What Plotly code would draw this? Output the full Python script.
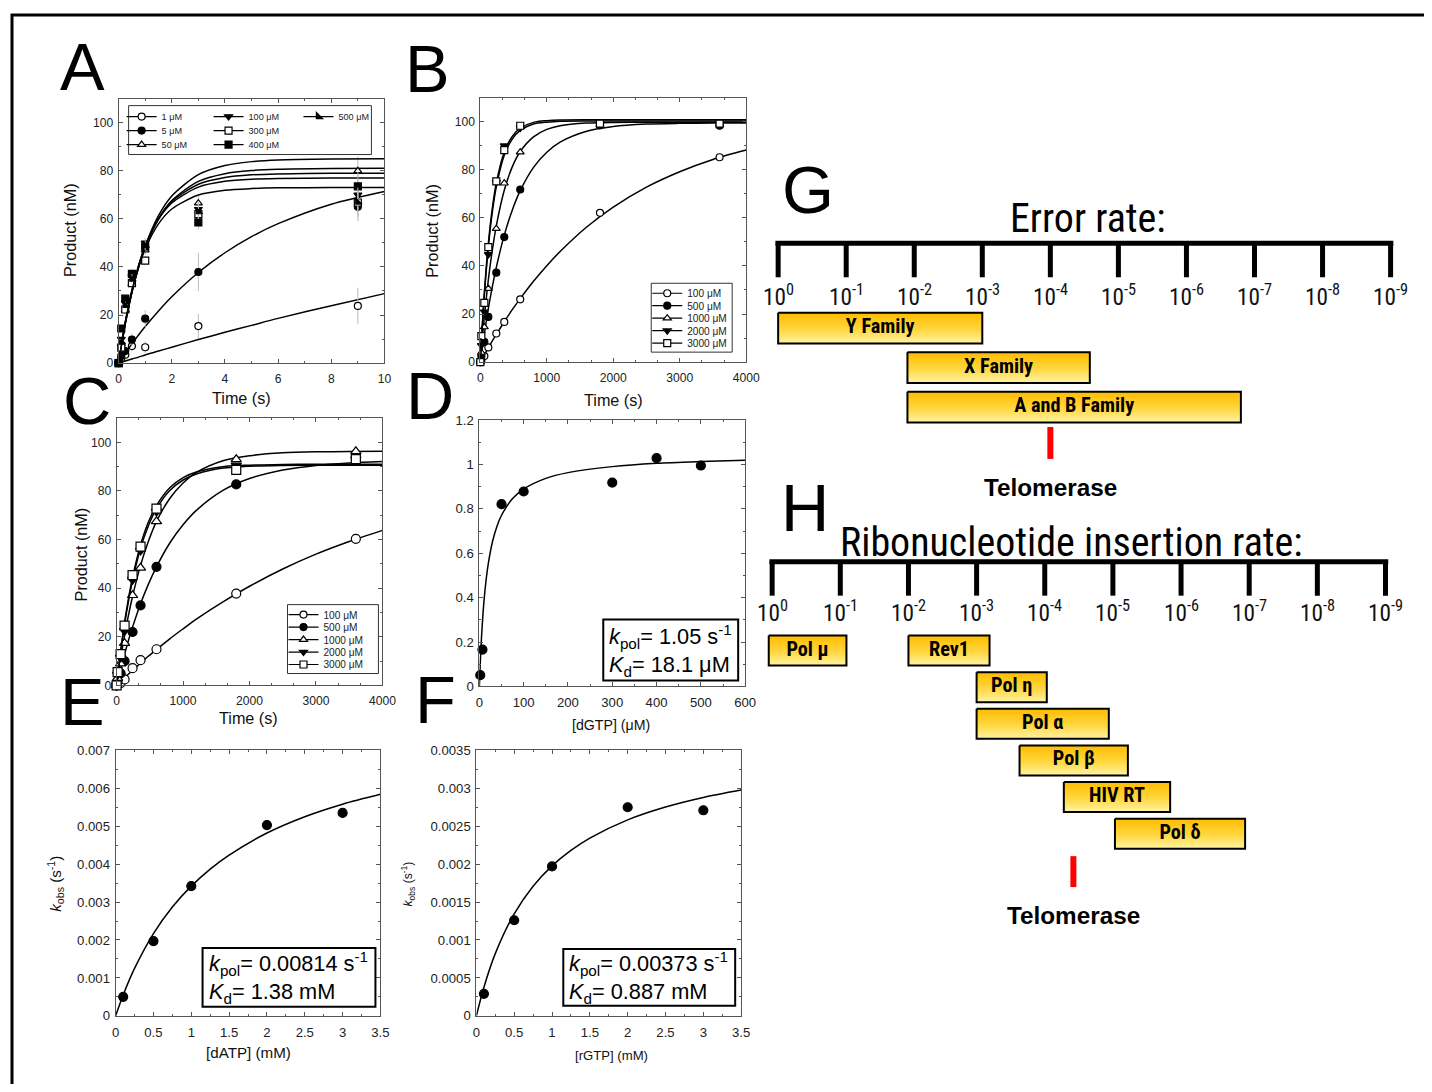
import plotly.graph_objects as go

# ======================= DATA =======================
# Panel A : product vs time (s), 7 dNTP concentrations
a_names = ['1 μM', '5 μM', '50 μM', '100 μM', '300 μM', '400 μM', '500 μM']
a_time = [0, 0.1, 0.25, 0.5, 1, 3, 9]
a_1uM = [0, 2.0, 3.5, 7.1, 6.6, 15.4, 23.8]
a_5uM = [0, 3.0, 5.0, 9.8, 18.5, 37.9, 65.0]
a_50uM = [0, 8.0, 22.0, 33.0, 47.0, 66.5, 80.0]
a_100uM = [0, 10.0, 25.0, 36.0, 50.0, 64.0, 70.0]
a_300uM = [0, 6.4, 22.3, 33.3, 42.6, 62.0, 66.8]
a_400uM = [0, 14.4, 26.8, 37.1, 48.5, 58.5, 73.5]
a_500uM = [0, 9.0, 24.0, 35.0, 49.0, 63.0, 67.0]
a_err_low = [0, 1.0, 1.5, 2.0, 2.5, 5.0, 7.5]
a_err_mid = [0, 1.0, 1.5, 2.5, 3.5, 8.0, 6.0]
a_err_high = [0, 1.0, 1.5, 2.0, 2.0, 3.0, 6.0]
a_fit_time = [0, 0.25, 0.5, 0.75, 1, 1.5, 2, 3, 4, 5, 6, 8, 10]
a_fit_1uM = [0, 0.85, 1.7, 2.5, 3.4, 5.0, 6.6, 9.8, 12.8, 15.7, 18.6, 23.9, 28.9]
a_fit_5uM = [0, 4.1, 8.0, 11.7, 15.2, 21.7, 27.6, 37.7, 45.9, 52.6, 58.0, 66.1, 71.4]
a_fit_50uM = [0, 16.3, 29.4, 39.8, 48.1, 60.0, 67.6, 75.6, 78.8, 80.1, 80.6, 80.9, 81.0]
a_fit_100uM = [0, 16.3, 29.4, 40.1, 48.7, 61.3, 69.5, 78.4, 82.2, 83.8, 84.5, 84.9, 85.0]
a_fit_300uM = [0, 17.0, 30.3, 40.6, 48.7, 59.8, 66.6, 73.2, 75.6, 76.5, 76.8, 77.0, 77.0]
a_fit_400uM = [0, 16.7, 29.9, 40.3, 48.4, 60.0, 67.2, 74.4, 77.2, 78.3, 78.7, 79.0, 79.0]
a_fit_500uM = [0, 16.9, 29.8, 39.8, 47.5, 57.9, 64.1, 69.9, 71.9, 72.6, 72.9, 73.0, 73.0]

# Panels B and C : product vs time (s)
bc_names = ['100 μM', '500 μM', '1000 μM', '2000 μM', '3000 μM']
b_time = [0, 15, 60, 120, 240, 360, 600, 1800, 3600]
b_100 = [0, 0.8, 2.5, 6.1, 11.9, 16.7, 26.1, 62.1, 85.2]
b_500 = [0, 2.5, 8.4, 18.8, 37.2, 52.0, 71.8, 98.5, 98.3]
b_1000 = [0, 4.0, 14.6, 30.6, 55.5, 74.4, 87.3, 98.8, 99.0]
b_2000 = [0, 7.0, 20.9, 44.8, 74.8, 90.0, 97.4, 98.8, 99.0]
b_3000 = [0, 10.8, 24.6, 47.8, 75.2, 88.2, 98.3, 99.2, 99.2]
fit_time = [0, 30, 60, 120, 180, 240, 360, 480, 600, 800, 1000, 1200, 1600, 2000, 2500, 3000, 3500, 4000]
b_fit_100 = [0, 1.5, 3.0, 5.9, 8.8, 11.5, 16.8, 21.8, 26.4, 33.6, 40.1, 46.0, 56.2, 64.5, 72.8, 79.2, 84.3, 88.2]
b_fit_500 = [0, 6.1, 11.8, 22.2, 31.3, 39.4, 52.8, 63.2, 71.3, 81.0, 87.3, 91.5, 96.0, 98.0, 99.0, 99.3, 99.4, 99.5]
b_fit_1000 = [0, 9.9, 18.9, 34.2, 46.6, 56.7, 71.5, 81.2, 87.6, 93.7, 96.8, 98.3, 99.4, 99.7, 99.8, 99.8, 99.8, 99.8]
b_fit_2000 = [0, 15.0, 27.8, 47.8, 62.4, 72.9, 86.0, 92.8, 96.4, 99.0, 99.8, 100.2, 100.3, 100.3, 100.3, 100.3, 100.3, 100.3]
b_fit_3000 = [0, 15.6, 28.8, 49.3, 64.0, 74.5, 87.4, 93.9, 97.3, 99.7, 100.4, 100.7, 100.8, 100.8, 100.8, 100.8, 100.8, 100.8]

c_time = [0, 15, 60, 120, 240, 360, 600, 1800, 3600]
c_100 = [0, 0.5, 1.0, 2.5, 7.1, 10.4, 14.9, 37.8, 60.3]
c_500 = [0, 1.5, 5.0, 10.0, 22.0, 32.9, 48.8, 82.7, 93.0]
c_1000 = [0, 3.0, 9.0, 17.4, 37.1, 48.4, 67.5, 93.0, 96.3]
c_2000 = [0, 4.5, 11.5, 22.5, 43.5, 55.5, 71.5, 90.5, 93.0]
c_3000 = [0, 5.5, 12.9, 24.6, 45.4, 57.1, 72.7, 88.7, 93.1]
c_fit_100 = [0, 0.8, 1.6, 3.2, 4.7, 6.2, 9.2, 12.1, 14.8, 19.2, 23.3, 27.3, 34.4, 40.8, 47.9, 54.0, 59.2, 63.8]
c_fit_500 = [0, 3.4, 6.7, 12.9, 18.7, 24.0, 33.6, 41.8, 48.8, 58.6, 66.1, 72.0, 80.2, 85.1, 88.6, 90.5, 91.5, 92.1]
c_fit_1000 = [0, 5.6, 10.9, 20.6, 29.1, 36.7, 49.4, 59.4, 67.5, 76.9, 83.3, 87.6, 92.4, 94.5, 95.7, 96.1, 96.2, 96.3]
c_fit_2000 = [0, 7.3, 14.1, 26.0, 36.0, 44.5, 57.8, 67.3, 74.0, 81.3, 85.5, 87.8, 90.0, 90.6, 90.9, 91.0, 91.0, 91.0]
c_fit_3000 = [0, 7.0, 13.6, 25.1, 34.9, 43.2, 56.4, 65.8, 72.7, 80.2, 84.5, 87.0, 89.4, 90.2, 90.5, 90.6, 90.6, 90.6]

# Panel D : kobs vs [dGTP] (μM)
d_conc = [2, 7, 50, 100, 300, 400, 500]
d_rate = [0.051, 0.166, 0.821, 0.878, 0.918, 1.028, 0.995]
d_fit_conc = [0, 2, 5, 10, 15, 20, 30, 40, 50, 75, 100, 150, 200, 300, 400, 500, 600]
d_fit_rate = [0, 0.104, 0.227, 0.374, 0.476, 0.551, 0.655, 0.723, 0.771, 0.846, 0.889, 0.937, 0.963, 0.990, 1.005, 1.013, 1.019]

# Panel E : kobs vs [dATP] (mM)
e_conc = [0.1, 0.5, 1, 2, 3]
e_rate = [0.0005, 0.00197, 0.00342, 0.00503, 0.00535]
ef_fit_conc = [0, 0.1, 0.25, 0.5, 0.75, 1, 1.25, 1.5, 2, 2.5, 3, 3.5]
e_fit_rate = [0, 0.00055, 0.00125, 0.00217, 0.00287, 0.00342, 0.00387, 0.00424, 0.00482, 0.00525, 0.00558, 0.00584]

# Panel F : kobs vs [rGTP] (mM)
f_conc = [0.1, 0.5, 1, 2, 3]
f_rate = [0.00029, 0.00126, 0.00197, 0.00275, 0.00271]
f_fit_rate = [0, 0.000378, 0.00082, 0.001345, 0.001709, 0.001977, 0.002182, 0.002344, 0.002584, 0.002753, 0.002879, 0.002976]

# Fit parameter texts (D, E, F)
d_params = ['<i>k</i><sub>pol</sub>= 1.05 s<sup>-1</sup>', '<i>K</i><sub>d</sub>= 18.1 μM']
e_params = ['<i>k</i><sub>pol</sub>= 0.00814 s<sup>-1</sup>', '<i>K</i><sub>d</sub>= 1.38 mM']
f_params = ['<i>k</i><sub>pol</sub>= 0.00373 s<sup>-1</sup>', '<i>K</i><sub>d</sub>= 0.887 mM']

# Panels G / H : log-scale ranges (exponent n of 10^-n)
scale_exponents = [0, 1, 2, 3, 4, 5, 6, 7, 8, 9]
scale_labels = ['10<sup>0</sup>', '10<sup>-1</sup>', '10<sup>-2</sup>', '10<sup>-3</sup>', '10<sup>-4</sup>',
                '10<sup>-5</sup>', '10<sup>-6</sup>', '10<sup>-7</sup>', '10<sup>-8</sup>', '10<sup>-9</sup>']
g_names = ['Y Family', 'X Family', 'A and B Family']
g_start = [0, 1.9, 1.9]
g_end = [3.0, 4.58, 6.8]
g_row = [0, 1, 2]
g_telomerase = 4.0
h_names = ['Pol μ', 'Rev1', 'Pol η', 'Pol α', 'Pol β', 'HIV RT', 'Pol δ']
h_start = [-0.05, 2.0, 3.0, 3.0, 3.63, 4.28, 5.03]
h_end = [1.09, 3.19, 4.03, 4.94, 5.22, 5.84, 6.94]
h_row = [0, 0, 1, 2, 3, 4, 5]
h_telomerase = 4.42

# ======================= LAYOUT HELPERS =======================
W, H = 1432, 1092          # page size
OFF = 8                    # default body margin of the page
FW, FH = W - 2 * OFF, H - 2 * OFF
SC, CX, CY = 0.988, 3.4, 6.3   # measured page -> picture mapping
FONT = 'Liberation Sans, Arial, sans-serif'
NARROW = 'Liberation Sans Narrow, Arial Narrow, Roboto Condensed, Liberation Sans, sans-serif'


def clamp(v):
    return max(0.0, min(1.0, v))


def fx(px):
    return ((px - CX) / SC - OFF) / FW


def fy(py):
    return 1 - ((py - CY) / SC - OFF) / FH


def fs(size):
    return size / SC


fig = go.Figure()


def set_panel_axes(n, box, xr, yr, xd, yd, xm, ym, size):
    s = '' if n == 1 else str(n)
    l, t, r, b = box
    common = dict(showline=True, linecolor='#555', linewidth=1, mirror='ticks', ticks='inside',
                  ticklen=4, tickwidth=1, tickcolor='#555', showgrid=False, zeroline=False,
                  tickfont=dict(family=FONT, size=fs(size), color='#222'), fixedrange=True, tick0=0)
    fig.update_layout(**{
        'xaxis' + s: dict(domain=[fx(l), fx(r)], range=xr, dtick=xd, anchor='y' + s, ticklabelstandoff=4,
                          minor=dict(ticks='inside', ticklen=2, dtick=xm, tickcolor='#555'), **common),
        'yaxis' + s: dict(domain=[fy(b), fy(t)], range=yr, dtick=yd, anchor='x' + s, ticklabelstandoff=2,
                          minor=dict(ticks='inside', ticklen=2, dtick=ym, tickcolor='#555'), **common),
    })


set_panel_axes(1, (118, 98, 384, 363), [0, 10], [0, 110], 2, 20, 1, 10, 12)
set_panel_axes(2, (480, 97, 746, 362), [0, 4000], [0, 110], 1000, 20, 1000 / 3, 10, 12)
set_panel_axes(3, (116, 418, 382, 686), [0, 4000], [0, 110], 1000, 20, 1000 / 3, 10, 12)
set_panel_axes(4, (479, 420, 745, 687), [0, 600], [0, 1.2], 100, 0.2, 50, 0.1, 13)
set_panel_axes(5, (115, 751, 380, 1017), [0, 3.5], [0, 0.007], 0.5, 0.001, 0.25, 0.0005, 13)
set_panel_axes(6, (476, 751, 741, 1017), [0, 3.5], [0, 0.0035], 0.5, 0.0005, 0.25, 0.00025, 13)

legend_layouts = {}
legend_count = [0]


def new_legend(marker_px, row_py, size):
    legend_count[0] += 1
    k = legend_count[0]
    key = 'legend' if k == 1 else 'legend' + str(k)
    legend_layouts[key] = dict(x=fx(marker_px - 20), y=fy(row_py), xanchor='left', yanchor='middle',
                               bgcolor='rgba(0,0,0,0)', borderwidth=0, itemwidth=30, tracegroupgap=0,
                               font=dict(family=FONT, size=fs(size), color='#222'),
                               itemclick=False, itemdoubleclick=False)
    return key


def add_series(n, x, y, cx, cy, symbol, filled, size, name=None, leg=None, err=None):
    s = '' if n == 1 else str(n)
    xa, ya = 'x' + s, 'y' + s
    mk = dict(symbol=symbol, size=size, color='black' if filled else 'white',
              line=dict(color='black', width=1.2))
    fig.add_trace(go.Scatter(x=cx, y=cy, mode='lines',
                             line=dict(color='black', width=1.5, shape='spline', smoothing=0.8),
                             xaxis=xa, yaxis=ya, showlegend=False, hoverinfo='skip'))
    ey = dict(type='data', array=err, color='#bdbdbd', thickness=1, width=0) if err else None
    fig.add_trace(go.Scatter(x=x, y=y, mode='markers', marker=mk, error_y=ey, xaxis=xa, yaxis=ya,
                             showlegend=False, hoverinfo='skip', cliponaxis=False))
    if name:
        lmk = dict(mk, size=min(size, 7))
        fig.add_trace(go.Scatter(x=[None], y=[None], mode='lines+markers', name=name,
                                 line=dict(color='black', width=1.2), marker=lmk,
                                 legend=new_legend(*leg), xaxis=xa, yaxis=ya, showlegend=True))


# Panel A  (legend keys: marker x px, row y px, font size)
add_series(1, a_time, a_1uM, a_fit_time, a_fit_1uM, 'circle', False, 7, a_names[0], (141, 116, 9), a_err_low)
add_series(1, a_time, a_5uM, a_fit_time, a_fit_5uM, 'circle', True, 7, a_names[1], (141, 130, 9), a_err_mid)
add_series(1, a_time, a_50uM, a_fit_time, a_fit_50uM, 'triangle-up', False, 7, a_names[2], (141, 144, 9), a_err_high)
add_series(1, a_time, a_100uM, a_fit_time, a_fit_100uM, 'triangle-down', True, 7, a_names[3], (228, 116, 9), a_err_high)
add_series(1, a_time, a_300uM, a_fit_time, a_fit_300uM, 'square', False, 7, a_names[4], (228, 130, 9), a_err_high)
add_series(1, a_time, a_400uM, a_fit_time, a_fit_400uM, 'square', True, 7, a_names[5], (228, 144, 9), a_err_high)
add_series(1, a_time, a_500uM, a_fit_time, a_fit_500uM, 'triangle-sw', True, 7, a_names[6], (318, 116, 9), a_err_high)

# Panel B
b_sets = [(b_100, b_fit_100, 'circle', False), (b_500, b_fit_500, 'circle', True),
          (b_1000, b_fit_1000, 'triangle-up', False), (b_2000, b_fit_2000, 'triangle-down', True),
          (b_3000, b_fit_3000, 'square', False)]
b_rows = [293, 305.5, 318, 330.5, 343]
for nm, (yy, ff, sym, fl), ry in zip(bc_names, b_sets, b_rows):
    add_series(2, b_time, yy, fit_time, ff, sym, fl, 7, nm, (667, ry, 10))

# Panel C
c_sets = [(c_100, c_fit_100, 'circle', False), (c_500, c_fit_500, 'circle', True),
          (c_1000, c_fit_1000, 'triangle-up', False), (c_2000, c_fit_2000, 'triangle-down', True),
          (c_3000, c_fit_3000, 'square', False)]
c_rows = [615, 627.5, 640, 652.5, 665]
for nm, (yy, ff, sym, fl), ry in zip(bc_names, c_sets, c_rows):
    add_series(3, c_time, yy, fit_time, ff, sym, fl, 9, nm, (303, ry, 10))

# Panels D, E, F
add_series(4, d_conc, d_rate, d_fit_conc, d_fit_rate, 'circle', True, 9)
add_series(5, e_conc, e_rate, ef_fit_conc, e_fit_rate, 'circle', True, 9)
add_series(6, f_conc, f_rate, ef_fit_conc, f_fit_rate, 'circle', True, 9)

fig.update_layout(**legend_layouts)

shapes = []
annotations = []


def rect(l, t, r, b, color='#333', width=1, fill='white'):
    shapes.append(dict(type='rect', xref='paper', yref='paper', x0=fx(l), x1=fx(r), y0=fy(b), y1=fy(t),
                       line=dict(color=color, width=width), fillcolor=fill, layer='above'))


# legend frames
for box in [(128, 105, 371, 154), (651, 283, 732, 352), (287, 605, 378, 674)]:
    rect(*box)
# outer figure frame (top / left visible)
shapes.append(dict(type='rect', xref='paper', yref='paper', x0=0, x1=1.02, y0=-0.02, y1=1,
                   line=dict(color='black', width=3)))


def ann(text, px, py, size, angle=0, family=FONT, color='#111', **kw):
    annotations.append(dict(text=text, x=fx(px), y=fy(py), xref='paper', yref='paper', showarrow=False,
                            textangle=angle, font=dict(family=family, size=fs(size), color=color),
                            xanchor=kw.pop('xanchor', 'center'), yanchor=kw.pop('yanchor', 'middle'), **kw))


# panel letters
for letter, px, py in [('A', 82, 68), ('B', 427, 70), ('C', 86, 403), ('D', 430, 398), ('E', 82, 705),
                       ('F', 435, 703), ('G', 808, 192), ('H', 805, 510)]:
    ann(letter, px, py - 2, 66, color='black')

# axis titles
ann('Time (s)', 241, 398, 16)
ann('Product (nM)', 70, 230, 16, angle=-90)
ann('Time (s)', 613, 400, 16)
ann('Product (nM)', 432, 230, 16, angle=-90)
ann('Time (s)', 248, 719, 16)
ann('Product (nM)', 80, 555, 16, angle=-90)
ann('[dGTP] (μM)', 611, 726, 14)
ann('[dATP] (mM)', 248, 1054, 15)
ann('<i>k</i><sub>obs</sub> (s<sup>-1</sup>)', 55, 885, 15, angle=-90)
ann('[rGTP] (mM)', 611, 1057, 13)
ann('<i>k</i><sub>obs</sub> (s<sup>-1</sup>)', 408, 885, 12, angle=-90)

# fit parameter boxes: frame + a two-line text block
for params, box, tx in [(d_params, (603, 620, 738, 681), 607),
                        (e_params, (202, 949, 375, 1008), 206),
                        (f_params, (563, 950, 735, 1007), 567)]:
    rect(*box, color='black', width=2)
    ann('<br>'.join(params), tx, (box[1] + box[3]) / 2, 21.5, color='black', xanchor='left', align='left')

# ======================= G / H rate scales =======================
BAR_SCALE = [[0, '#FFF3A6'], [0.45, '#FFD740'], [1, '#FFBC00']]
XR = [-0.3, 9.2]


def rate_panel(n, px0, pxu, row0, rowstep, nrows, half, starts, ends, rows, names, tel,
               title, title_px, title_py, line_py, tick_py, label_py, red_py, tel_py):
    s = str(n)
    fig.update_layout(**{
        'xaxis' + s: dict(domain=[clamp(fx(px0 + pxu * XR[0])), clamp(fx(px0 + pxu * XR[1]))], range=XR,
                          visible=False, anchor='y' + s, fixedrange=True),
        'yaxis' + s: dict(domain=[clamp(fy(row0 + rowstep * (nrows - 0.5))), clamp(fy(row0 - rowstep * 0.5))],
                          range=[nrows - 0.5, -0.5], visible=False, anchor='x' + s, fixedrange=True),
    })
    xa, ya = 'x' + s, 'y' + s
    # scale bar
    shapes.append(dict(type='line', xref=xa, yref='paper', x0=scale_exponents[0] - 0.04,
                       x1=scale_exponents[-1] + 0.04, y0=fy(line_py), y1=fy(line_py),
                       line=dict(color='black', width=5)))
    for e, lab in zip(scale_exponents, scale_labels):
        shapes.append(dict(type='line', xref=xa, yref='paper', x0=e, x1=e, y0=fy(line_py), y1=fy(tick_py),
                           line=dict(color='black', width=5)))
        annotations.append(dict(text=lab, x=e, y=fy(label_py), xref=xa, yref='paper', showarrow=False,
                                font=dict(family=NARROW, size=fs(23), color='#111'), xanchor='center',
                                yanchor='middle'))
    # range bars
    for nm, st, en, r in zip(names, starts, ends, rows):
        fig.add_trace(go.Scatter(x=[st, en, en, st, st], y=[r - half, r - half, r + half, r + half, r - half],
                                 mode='lines', fill='toself',
                                 fillgradient=dict(type='vertical', colorscale=BAR_SCALE),
                                 line=dict(color='black', width=2), xaxis=xa, yaxis=ya,
                                 showlegend=False, hoverinfo='skip'))
    fig.add_trace(go.Scatter(x=[(a + b) / 2 for a, b in zip(starts, ends)], y=rows, text=names, mode='text',
                             textfont=dict(family=NARROW, size=fs(20), color='black', weight='bold'),
                             xaxis=xa, yaxis=ya, showlegend=False, hoverinfo='skip', cliponaxis=False))
    # telomerase marker
    shapes.append(dict(type='line', xref=xa, yref='paper', x0=tel, x1=tel, y0=fy(red_py[0]), y1=fy(red_py[1]),
                       line=dict(color='#FF0000', width=6)))
    annotations.append(dict(text='Telomerase', x=tel, y=fy(tel_py), xref=xa, yref='paper', showarrow=False,
                            font=dict(family=FONT, size=fs(24), color='black', weight='bold'),
                            xanchor='center', yanchor='middle'))
    ann(title, title_px, title_py, 39.5, family=NARROW, color='black')


rate_panel(7, 778, 68.1, 328, 39.5, 3, 0.39, g_start, g_end, g_row, g_names, g_telomerase,
           'Error rate:', 1088, 218, 243, 277, 295, (427, 459), 488)
rate_panel(8, 772, 68.2, 651, 36.7, 6, 0.41, h_start, h_end, h_row, h_names, h_telomerase,
           'Ribonucleotide insertion rate:', 1072, 543, 562, 596, 612, (857, 888), 916)

fig.update_layout(width=FW, height=FH, margin=dict(l=0, r=0, t=0, b=0), paper_bgcolor='white',
                  plot_bgcolor='white', shapes=shapes, annotations=annotations, hovermode=False,
                  font=dict(family=FONT))

fig.write_html("out.html", config={'displayModeBar': False})
